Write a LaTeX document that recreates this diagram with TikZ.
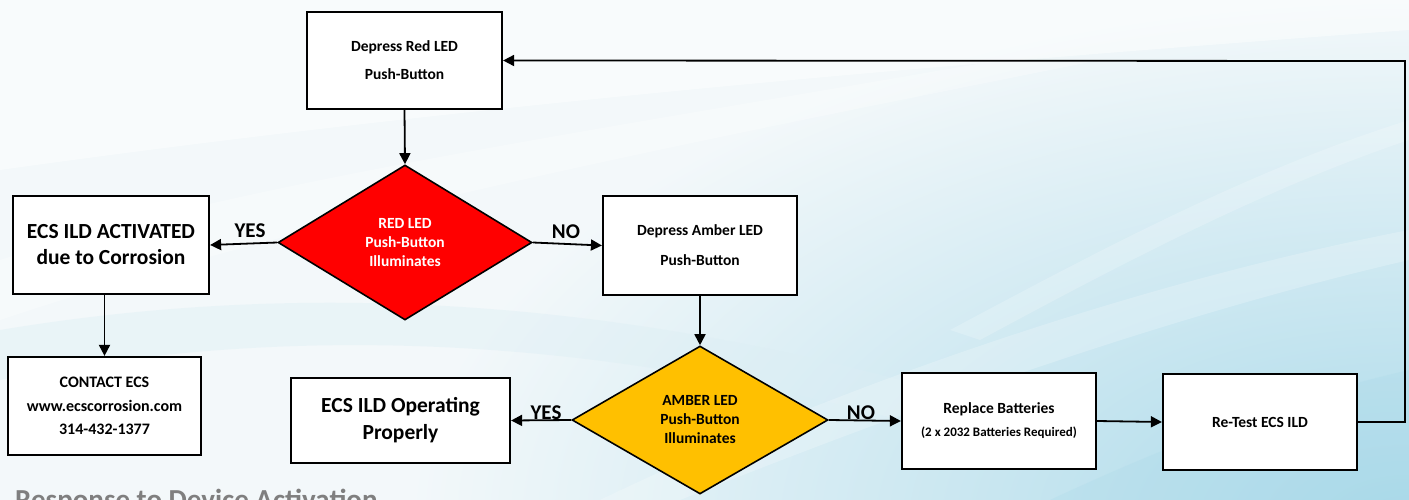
\documentclass[tikz,border=0pt]{standalone}
\usepackage{fontspec}
\setmainfont{Carlito}
\usetikzlibrary{arrows.meta,shapes.geometric}
\definecolor{bgblue}{HTML}{A9D9E9}
\definecolor{bgmid}{HTML}{DCEEF4}
\definecolor{bgpale}{HTML}{F3F8FA}
\definecolor{redfill}{HTML}{FF0000}
\definecolor{amberfill}{HTML}{FFC000}
\definecolor{titlegray}{HTML}{7F7F7F}
\tikzset{
  box/.style={draw=black, line width=2.2pt, fill=white, rectangle, inner sep=2pt, align=center, font=\bfseries},
  decision/.style={draw=black, line width=1.6pt, diamond, inner sep=0pt, align=center, font=\bfseries\fontsize{15.5}{19}\selectfont},
  conn/.style={draw=black, line width=1.8pt, -{Triangle[length=11pt,width=11pt]}},
  lbl/.style={font=\bfseries\fontsize{21}{24}\selectfont, inner sep=0pt}
}
\begin{document}
\begin{tikzpicture}[x=1pt,y=-1pt]
\useasboundingbox (0,0) rectangle (1409,500);
\clip (0,0) rectangle (1409,500);
% background
\fill[bgpale] (0,0) rectangle (1409,500);
\shade[inner color=bgblue, outer color=bgpale] (1409,520) ellipse (1000 and 520);
\fill[white, opacity=0.45] (0,0) -- (1409,0) -- (1409,30) .. controls (1000,60) and (500,100) .. (0,170) -- cycle;
\fill[white, opacity=0.3] (0,260) .. controls (250,180) and (600,130) .. (1000,60) -- (1100,60) .. controls (650,150) and (300,220) .. (0,320) -- cycle;
\fill[bgmid, opacity=0.4] (0,330) .. controls (300,280) and (600,300) .. (900,380) -- (900,420) .. controls (600,340) and (300,320) .. (0,380) -- cycle;
\fill[white, opacity=0.22] (600,500) .. controls (850,380) and (1150,280) .. (1409,230) -- (1409,260) .. controls (1150,320) and (880,420) .. (680,500) -- cycle;
\fill[white, opacity=0.2] (950,330) .. controls (1100,250) and (1250,170) .. (1409,120) -- (1409,140) .. controls (1260,190) and (1110,270) .. (980,340) -- cycle;
\fill[bgblue, opacity=0.25] (1050,500) .. controls (1200,430) and (1320,390) .. (1409,370) -- (1409,500) -- cycle;

% nodes
\node[box, minimum width=195pt, minimum height=97pt, font=\bfseries\fontsize{15.5}{28}\selectfont] (redbtn) at (404.5,60.5) {Depress Red LED\\Push-Button};
\node[decision, fill=redfill, text=white, minimum width=254pt, minimum height=155pt] (reddec) at (405,242.5) {RED LED\\Push-Button\\Illuminates};
\node[box, minimum width=196pt, minimum height=98pt, font=\bfseries\fontsize{21.5}{26}\selectfont] (activated) at (111,245) {ECS ILD ACTIVATED\\due to Corrosion};
\node[box, minimum width=194pt, minimum height=99pt, font=\bfseries\fontsize{15.5}{30}\selectfont] (amberbtn) at (700,245.5) {Depress Amber LED\\Push-Button};
\node[box, minimum width=193pt, minimum height=98pt, font=\bfseries\fontsize{16}{23.5}\selectfont] (contact) at (104.5,406) {CONTACT ECS\\www.ecscorrosion.com\\314-432-1377};
\node[decision, fill=amberfill, text=black, minimum width=256pt, minimum height=148pt] (amberdec) at (700,420) {AMBER LED\\Push-Button\\Illuminates};
\node[box, minimum width=219pt, minimum height=85pt, font=\bfseries\fontsize{21.5}{27}\selectfont] (operating) at (400.5,420.5) {ECS ILD Operating\\Properly};
\node[box, minimum width=194pt, minimum height=96pt] (replace) at (999,421) {{\fontsize{15.5}{18}\selectfont Replace Batteries}\\[10pt]{\fontsize{13}{15}\selectfont (2 x 2032 Batteries Required)}};
\node[box, minimum width=194pt, minimum height=96pt, font=\bfseries\fontsize{15.5}{18}\selectfont] (retest) at (1260,422) {Re-Test ECS ILD};
\coordinate (loop) at (1405,61);

% labels
\node[lbl] (yes1) at (250,231) {YES};
\node[lbl] (no1) at (566,232) {NO};
\node[lbl] (yes2) at (546,413) {YES};
\node[lbl] (no2) at (861,413) {NO};
\node[anchor=base west, inner sep=0pt, text=titlegray, font=\bfseries\fontsize{29}{32}\selectfont] (title) at (15,509) {Response to Device Activation};

% connectors
\draw[conn] (redbtn.south) -- (reddec.north);
\draw[conn] (reddec.west) -- (activated.east);
\draw[conn] (reddec.east) -- (amberbtn.west);
\draw[conn] (contact.north |- activated.south) -- (contact.north);
\draw[conn] (amberbtn.south) -- (amberdec.north);
\draw[conn] (amberdec.west) -- (operating.east);
\draw[conn] (amberdec.east) -- (replace.west);
\draw[conn] (replace.east) -- (retest.west);
\draw[conn] (retest.east) -| (loop) -- (redbtn.east);
\end{tikzpicture}
\end{document}
